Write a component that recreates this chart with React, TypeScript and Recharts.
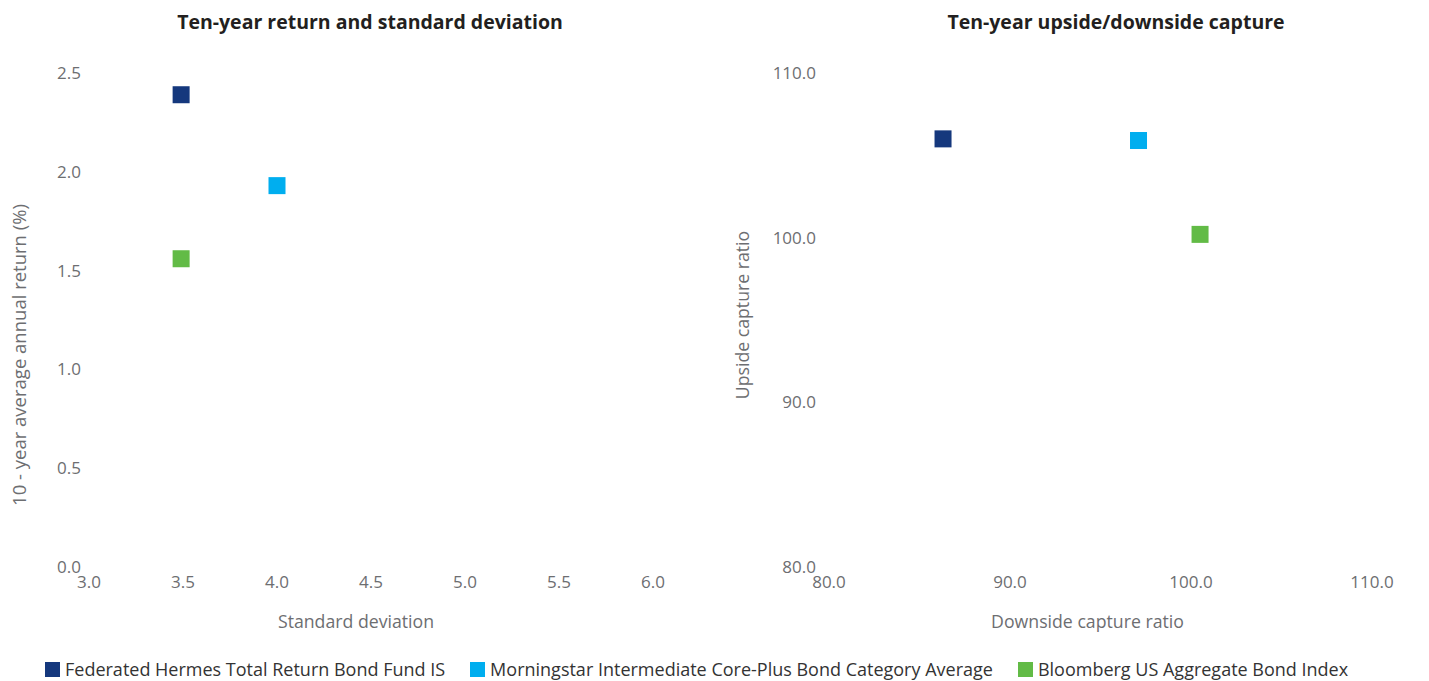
import React from 'react';
import { ScatterChart, Scatter, XAxis, YAxis, Label } from 'recharts';

const SERIES = [
  'Federated Hermes Total Return Bond Fund IS',
  'Morningstar Intermediate Core-Plus Bond Category Average',
  'Bloomberg US Aggregate Bond Index',
];
const COLORS = ['#15387d', '#00aeef', '#62bb46'];

// left chart
const STD_DEV = [3.49, 4.0, 3.49];
const RETURN_10Y = [2.39, 1.93, 1.56];
const STD_TICKS = [3.0, 3.5, 4.0, 4.5, 5.0, 5.5, 6.0];
const RETURN_TICKS = [0.0, 0.5, 1.0, 1.5, 2.0, 2.5];

// right chart
const DOWNSIDE = [86.3, 97.1, 100.5];
const UPSIDE = [106.0, 105.9, 100.2];
const CAPTURE_TICKS = [80, 90, 100, 110];

const TICK_COLOR = '#6d6e71';
const tickStyle = { fill: TICK_COLOR, fontSize: 17 };
const fmt = (v: number) => v.toFixed(1);

const Square = (p: any) => (
  <rect x={p.cx - 8.5} y={p.cy - 8.5} width={17} height={17} fill={p.fill} />
);

const xTitle = (text: string, shift: number) => (props: any) => {
  const vb = props.viewBox;
  return (
    <text
      x={vb.x + vb.width / 2 + shift}
      y={vb.y + 61}
      textAnchor="middle"
      fill={TICK_COLOR}
      fontSize={17.7}
    >
      {text}
    </text>
  );
};

const yTitle = (text: string, x: number, y: number, size: number) => () => (
  <text
    x={x}
    y={y}
    transform={`rotate(-90 ${x} ${y})`}
    textAnchor="middle"
    dominantBaseline="central"
    fill={TICK_COLOR}
    fontSize={size}
  >
    {text}
  </text>
);

const Title = ({ text, center }: { text: string; center: number }) => (
  <div
    style={{
      position: 'absolute',
      top: 8,
      left: center - 300,
      width: 600,
      textAlign: 'center',
      fontSize: 19.5,
      fontWeight: 700,
      color: '#231f20',
    }}
  >
    {text}
  </div>
);

export default function App() {
  const leftData = SERIES.map((_, i) => [{ x: STD_DEV[i], y: RETURN_10Y[i] }]);
  const rightData = SERIES.map((_, i) => [{ x: DOWNSIDE[i], y: UPSIDE[i] }]);

  return (
    <div
      style={{
        position: 'absolute',
        left: 0,
        top: 0,
        width: 1429,
        height: 681,
        background: '#fff',
        fontFamily: '"Open Sans", Lato, sans-serif',
      }}
    >
      <Title text="Ten-year return and standard deviation" center={370} />
      <Title text="Ten-year upside/downside capture" center={1116} />

      <div style={{ position: 'absolute', left: 0, top: 0 }}>
        <ScatterChart width={720} height={640} margin={{ top: 73, right: 67, bottom: 28, left: 0 }}>
          <XAxis
            type="number"
            dataKey="x"
            domain={[3, 6]}
            ticks={STD_TICKS}
            tickFormatter={fmt}
            axisLine={false}
            tickLine={false}
            tickSize={0}
            tickMargin={9}
            tick={tickStyle}
            height={45}
            interval={0}
          >
            <Label content={xTitle('Standard deviation', -15)} />
          </XAxis>
          <YAxis
            type="number"
            dataKey="y"
            domain={[0, 2.5]}
            ticks={RETURN_TICKS}
            tickFormatter={fmt}
            axisLine={false}
            tickLine={false}
            tickSize={0}
            tickMargin={8}
            tick={tickStyle}
            width={89}
            interval={0}
          >
            <Label content={yTitle('10 - year average annual return (%)', 18, 355, 18.5)} />
          </YAxis>
          {SERIES.map((name, i) => (
            <Scatter
              key={name}
              name={name}
              data={leftData[i]}
              fill={COLORS[i]}
              shape={Square}
              isAnimationActive={false}
            />
          ))}
        </ScatterChart>
      </div>

      <div style={{ position: 'absolute', left: 720, top: 0 }}>
        <ScatterChart width={709} height={640} margin={{ top: 73, right: 57, bottom: 28, left: 0 }}>
          <XAxis
            type="number"
            dataKey="x"
            domain={[80, 110]}
            ticks={CAPTURE_TICKS}
            tickFormatter={fmt}
            axisLine={false}
            tickLine={false}
            tickSize={0}
            tickMargin={9}
            tick={tickStyle}
            height={45}
            interval={0}
          >
            <Label content={xTitle('Downside capture ratio', -13)} />
          </XAxis>
          <YAxis
            type="number"
            dataKey="y"
            domain={[80, 110]}
            ticks={CAPTURE_TICKS}
            tickFormatter={fmt}
            axisLine={false}
            tickLine={false}
            tickSize={0}
            tickMargin={13}
            tick={tickStyle}
            width={109}
            interval={0}
          >
            <Label content={yTitle('Upside capture ratio', 22, 315, 17.7)} />
          </YAxis>
          {SERIES.map((name, i) => (
            <Scatter
              key={name}
              name={name}
              data={rightData[i]}
              fill={COLORS[i]}
              shape={Square}
              isAnimationActive={false}
            />
          ))}
        </ScatterChart>
      </div>

      <div
        style={{
          position: 'absolute',
          left: 45,
          top: 657,
          display: 'flex',
          alignItems: 'center',
          gap: 25,
          fontSize: 18,
          color: '#333',
          whiteSpace: 'nowrap',
        }}
      >
        {SERIES.map((name, i) => (
          <div key={name} style={{ display: 'flex', alignItems: 'center' }}>
            <span style={{ width: 15, height: 15, background: COLORS[i], marginRight: 5, display: 'inline-block' }} />
            <span>{name}</span>
          </div>
        ))}
      </div>
    </div>
  );
}
